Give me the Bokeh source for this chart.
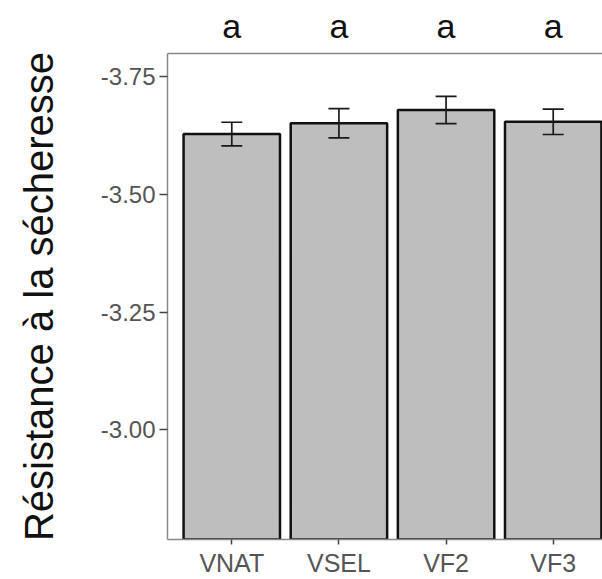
from bokeh.plotting import figure
from bokeh.models import (Range1d, FixedTicker, NumeralTickFormatter, LinearAxis,
                          ColumnDataSource, Whisker, TeeHead)
from bokeh.embed import file_html
from bokeh.resources import INLINE

# ---- data ----
categories = ["VNAT", "VSEL", "VF2", "VF3"]
means = [-3.628, -3.651, -3.679, -3.654]
se = [0.025, 0.031, 0.029, 0.027]
letters = ["a", "a", "a", "a"]
y_ticks = [-3.75, -3.50, -3.25, -3.00]

FONT = "Liberation Sans"
Y_TOP = -3.799
Y_BOTTOM = -2.767

xs = list(range(1, len(categories) + 1))
src = ColumnDataSource(dict(
    x=xs,
    mean=means,
    lower=[m + s for m, s in zip(means, se)],
    upper=[m - s for m, s in zip(means, se)],
))

p = figure(width=602, height=579, output_backend="svg", toolbar_location=None,
           x_range=Range1d(0.4, 4.46), y_range=Range1d(Y_BOTTOM, Y_TOP),
           min_border_left=167, min_border_top=53, min_border_right=0,
           min_border_bottom=39)
p.outline_line_color = None
p.background_fill_color = "white"
p.border_fill_color = "white"
p.xgrid.visible = False
p.ygrid.visible = False

# bars (start at 0, clipped by the reversed axis like ggplot)
p.vbar(x="x", width=0.9, bottom=0, top="mean", source=src,
       fill_color="#bebebe", line_color="#111111", line_width=2.5)

# error bars
p.add_layout(Whisker(base="x", lower="lower", upper="upper", source=src,
                     level="overlay",
                     line_color="#1a1a1a", line_width=1.7,
                     upper_head=TeeHead(size=21, line_color="#1a1a1a", line_width=1.7),
                     lower_head=TeeHead(size=21, line_color="#1a1a1a", line_width=1.7)))

# y axis
ya = p.yaxis[0]
ya.ticker = FixedTicker(ticks=y_ticks)
ya.formatter = NumeralTickFormatter(format="0.00")
ya.axis_line_color = "#888888"
ya.axis_line_width = 1.5
ya.major_tick_in = 0
ya.major_tick_out = 8
ya.major_tick_line_color = "#444444"
ya.major_tick_line_width = 1.5
ya.minor_tick_line_color = None
ya.major_label_text_font = FONT
ya.major_label_text_font_size = "24px"
ya.major_label_text_color = "#555555"
ya.major_label_standoff = 4
ya.axis_label = "Résistance à la sécheresse"
ya.axis_label_text_font = FONT
ya.axis_label_text_font_size = "40px"
ya.axis_label_text_font_style = "normal"
ya.axis_label_text_color = "#111111"
ya.axis_label_standoff = 37

# x axis
xa = p.xaxis[0]
xa.ticker = FixedTicker(ticks=xs)
xa.major_label_overrides = {x: c for x, c in zip(xs, categories)}
xa.axis_line_color = "#888888"
xa.axis_line_width = 1.5
xa.major_tick_in = 0
xa.major_tick_out = 5
xa.major_tick_line_color = "#444444"
xa.major_tick_line_width = 1.5
xa.minor_tick_line_color = None
xa.major_label_text_font = FONT
xa.major_label_text_font_size = "25px"
xa.major_label_text_color = "#555555"
xa.major_label_standoff = 4

# top border line carrying the significance letters
top = LinearAxis(ticker=FixedTicker(ticks=xs),
                 major_label_overrides={x: l for x, l in zip(xs, letters)},
                 axis_line_color="#888888", axis_line_width=1.5,
                 major_tick_line_color=None, minor_tick_line_color=None,
                 major_label_text_font=FONT, major_label_text_font_size="34px",
                 major_label_text_color="#111111", major_label_standoff=3)
p.add_layout(top, "above")

open("out.html", "w").write(file_html(p, INLINE))
